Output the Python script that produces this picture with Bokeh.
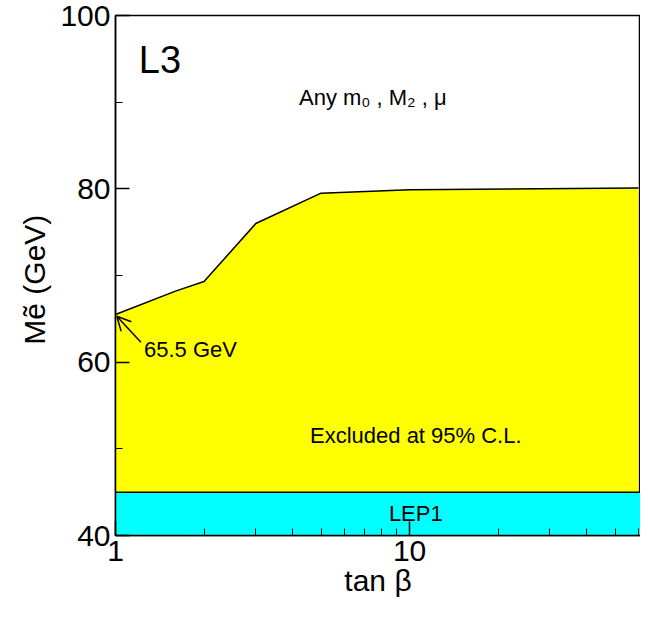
from bokeh.plotting import figure
from bokeh.models import Range1d, FixedTicker, Arrow, OpenHead, Label, CustomJSTickFormatter
from bokeh.embed import file_html
from bokeh.resources import INLINE

# exclusion boundary
tanb = [1.0, 1.6, 2.0, 3.0, 5.0, 10.0, 60.0]
m_limit = [65.5, 68.2, 69.3, 76.0, 79.5, 79.9, 80.1]
lep1_limit = 45.0
y_min, y_max = 40.0, 100.0
x_min, x_max = 1.0, 61.0

FONT = "Liberation Sans"

p = figure(width=640, height=625, x_axis_type="log", output_backend="svg",
           toolbar_location=None, x_range=Range1d(x_min, x_max),
           y_range=Range1d(y_min, y_max), min_border_left=115,
           min_border_top=15, min_border_bottom=90, min_border_right=0)
p.grid.visible = False
p.outline_line_color = "black"
p.outline_line_width = 1.5

# yellow excluded region and LEP1 band
p.varea(x=tanb, y1=[lep1_limit] * len(tanb), y2=m_limit, fill_color="#ffff00")
p.line(tanb, m_limit, line_color="black", line_width=1.5)
p.varea(x=[x_min, x_max], y1=[y_min, y_min], y2=[lep1_limit, lep1_limit],
        fill_color="#00ffff")
p.line([x_min, x_max], [lep1_limit, lep1_limit], line_color="black", line_width=1.5)

for ax in (p.xaxis, p.yaxis):
    ax.major_tick_in = 14
    ax.major_tick_out = 0
    ax.minor_tick_in = 7
    ax.minor_tick_out = 0
    ax.axis_line_width = 1.5
    ax.major_tick_line_width = 1.5
    ax.major_label_text_font = FONT
    ax.major_label_text_font_size = "30px"
    ax.major_label_text_color = "black"
    ax.axis_label_text_font = FONT
    ax.axis_label_text_font_size = "30px"
    ax.axis_label_text_font_style = "normal"
    ax.axis_label_text_color = "black"
p.xaxis.ticker = FixedTicker(ticks=[1, 10],
                             minor_ticks=[2, 3, 4, 5, 6, 7, 8, 9, 20, 30, 40, 50, 60])
p.xaxis.formatter = CustomJSTickFormatter(code="return tick.toFixed(0);")
p.yaxis.ticker = FixedTicker(ticks=[40, 60, 80, 100], minor_ticks=[50, 70, 90])
p.xaxis.axis_label = "tan β"
p.xaxis.axis_label_standoff = 0
p.yaxis.axis_label = "Mẽ  (GeV)"
p.yaxis.axis_label_standoff = 6


def label(**kw):
    p.add_layout(Label(text_font=FONT, text_color="black", **kw))


label(x=1.2, y=92.5, text="L3", text_font_size="38px")
label(x=7.5, y=90.5, text="Any m₀ , M₂ , μ", text_font_size="22px",
      text_align="center", text_baseline="middle")
label(x=1.25, y=61.5, text="65.5 GeV", text_font_size="22px", text_baseline="middle")
label(x=10.5, y=51.5, text="Excluded at 95% C.L.", text_font_size="22px",
      text_align="center", text_baseline="middle")
label(x=10.5, y=42.5, text="LEP1", text_font_size="22px",
      text_align="center", text_baseline="middle")
p.add_layout(Arrow(x_start=1.22, y_start=62.3, x_end=1.01, y_end=65.3,
                   line_width=1.5, end=OpenHead(size=14, line_width=1.5)))

open("out.html", "w").write(file_html(p, INLINE))
